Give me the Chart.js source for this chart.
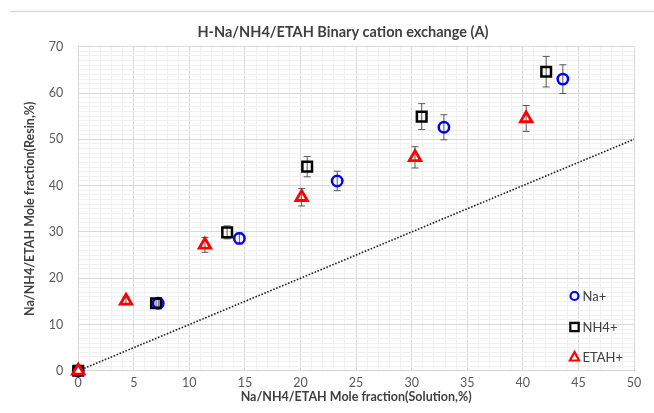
<!DOCTYPE html>
<html>
<head>
<meta charset="utf-8">
<script src="https://cdn.jsdelivr.net/npm/chart.js@4.4.1/dist/chart.umd.min.js"></script>
<style>
  html, body { margin: 0; padding: 0; background: #fff; }
</style>
</head>
<body>
<canvas id="chart" width="654" height="413"></canvas>
<script>
// values: x = mole fraction in solution (%), y = in resin (%)
const naX = [0, 7.2, 14.5, 23.3, 32.9, 43.6];
const naY = [0, 14.6, 28.6, 41.0, 52.6, 63.0];
const naErr = [0.3, 0.8, 1.2, 2.1, 2.7, 3.1];

const nh4X = [0, 7.0, 13.4, 20.6, 30.9, 42.1];
const nh4Y = [0, 14.6, 29.9, 44.1, 54.9, 64.6];
const nh4Err = [0.3, 0.8, 1.4, 2.2, 2.8, 3.3];

const etahX = [0, 4.3, 11.4, 20.1, 30.3, 40.3];
const etahY = [0, 15.1, 27.2, 37.5, 46.1, 54.5];
const etahErr = [0.3, 0.8, 1.6, 1.9, 2.3, 2.8];

// the 1:1 reference line
const diagX = [0, 50];
const diagY = [0, 50];

const xTickLabels = [0, 5, 10, 15, 20, 25, 30, 35, 40, 45, 50];
const yTickLabels = [0, 10, 20, 30, 40, 50, 60, 70];

const chartTitle = 'H-Na/NH4/ETAH Binary cation exchange (A)';
const xTitle = 'Na/NH4/ETAH Mole fraction(Solution,%)';
const yTitle = 'Na/NH4/ETAH Mole fraction(Resin,%)';

const FONT = 'Lato, "Open Sans", sans-serif';
const majorGrid = '#d9d9d9';
const minorGrid = '#f0f0f0';

function pts(xs, ys) {
  return xs.map((x, i) => ({ x: x, y: ys[i] }));
}

// vertical error bars, drawn under the markers (not at the origin)
const errorBars = {
  id: 'errorBars',
  beforeDatasetsDraw(chart) {
    const ctx = chart.ctx;
    const xs = chart.scales.x, ys = chart.scales.y;
    const sets = [[naX, naY, naErr], [nh4X, nh4Y, nh4Err], [etahX, etahY, etahErr]];
    ctx.save();
    ctx.strokeStyle = '#595959';
    ctx.lineWidth = 1;
    sets.forEach(([xv, yv, ev]) => {
      xv.forEach((x, i) => {
        if (yv[i] === 0) return;
        const px = xs.getPixelForValue(x);
        const top = ys.getPixelForValue(yv[i] + ev[i]);
        const bot = ys.getPixelForValue(yv[i] - ev[i]);
        ctx.beginPath();
        ctx.moveTo(px, top); ctx.lineTo(px, bot);
        ctx.moveTo(px - 3.5, top); ctx.lineTo(px + 3.5, top);
        ctx.moveTo(px - 3.5, bot); ctx.lineTo(px + 3.5, bot);
        ctx.stroke();
      });
    });
    ctx.restore();
  }
};

// frame line, title and the in-plot legend
const decorations = {
  id: 'decorations',
  beforeDraw(chart) {
    const ctx = chart.ctx;
    ctx.save();
    ctx.fillStyle = '#fff';
    ctx.fillRect(0, 0, chart.width, chart.height);
    ctx.strokeStyle = '#d9d9d9';
    ctx.lineWidth = 1.5;
    ctx.beginPath();
    ctx.moveTo(10, 11.5); ctx.lineTo(chart.width, 11.5);
    ctx.stroke();
    ctx.fillStyle = '#404040';
    ctx.font = 'bold 14.5px ' + FONT;
    ctx.textAlign = 'center';
    ctx.textBaseline = 'middle';
    ctx.fillText(chartTitle, 343, 32);
    ctx.restore();
  },
  afterDraw(chart) {
    const ctx = chart.ctx;
    const rows = [296, 327, 357];
    const mx = 574.5;
    ctx.save();
    ctx.font = '13px ' + FONT;
    ctx.textBaseline = 'middle';
    ctx.textAlign = 'left';
    chart.data.datasets.slice(0, 3).forEach((ds, i) => {
      const y = rows[i];
      ctx.strokeStyle = ds.borderColor;
      ctx.lineWidth = 2.2;
      ctx.beginPath();
      if (ds.pointStyle === 'circle') {
        ctx.arc(mx, y, 4, 0, Math.PI * 2);
      } else if (ds.pointStyle === 'rect') {
        ctx.rect(mx - 4.2, y - 4.2, 8.4, 8.4);
      } else {
        ctx.moveTo(mx, y - 5);
        ctx.lineTo(mx + 4.6, y + 3.5);
        ctx.lineTo(mx - 4.6, y + 3.5);
        ctx.closePath();
      }
      ctx.stroke();
      ctx.fillStyle = '#404040';
      ctx.fillText(ds.label, mx + 8, y + 0.5);
    });
    ctx.restore();
  }
};

const originFill = (color) => (c) => (c.dataIndex === 0 ? color : 'rgba(0,0,0,0)');

new Chart(document.getElementById('chart'), {
  type: 'scatter',
  data: {
    datasets: [
      {
        label: 'Na+',
        data: pts(naX, naY),
        pointStyle: 'circle',
        pointRadius: 5.2,
        borderColor: '#0000ff',
        backgroundColor: originFill('#0000ff'),
        borderWidth: 2.5,
        clip: false,
        order: 3
      },
      {
        label: 'NH4+',
        data: pts(nh4X, nh4Y),
        pointStyle: 'rect',
        pointRadius: 6.8,
        borderColor: '#000000',
        backgroundColor: 'rgba(0,0,0,0)',
        borderWidth: 2.5,
        clip: false,
        order: 2
      },
      {
        label: 'ETAH+',
        data: pts(etahX, etahY),
        pointStyle: 'triangle',
        pointRadius: 6.6,
        borderColor: '#ff0000',
        backgroundColor: originFill('#ffffff'),
        borderWidth: 2.8,
        clip: false,
        order: 1
      },
      {
        type: 'line',
        label: '1:1',
        data: pts(diagX, diagY),
        showLine: true,
        pointRadius: 0,
        borderColor: '#222222',
        borderWidth: 1.6,
        borderDash: [1.6, 1.6],
        fill: false,
        order: 4
      }
    ]
  },
  options: {
    responsive: false,
    animation: false,
    devicePixelRatio: 1,
    layout: { padding: { left: 10, right: 20, top: 46.7, bottom: 8 } },
    plugins: {
      legend: { display: false },
      title: { display: false },
      tooltip: { enabled: false }
    },
    scales: {
      x: {
        type: 'linear',
        min: 0,
        max: 50,
        afterFit: (s) => { s.height = 34.2; },
        ticks: {
          stepSize: 1,
          autoSkip: false,
          maxRotation: 0,
          padding: 5,
          color: '#595959',
          font: { family: FONT, size: 12.5 },
          callback: (v) => (xTickLabels.includes(v) ? String(v) : '')
        },
        grid: {
          drawTicks: false,
          lineWidth: 1,
          color: (c) => (c.tick && xTickLabels.includes(c.tick.value) ? majorGrid : minorGrid)
        },
        border: { color: majorGrid },
        title: {
          display: true,
          text: xTitle,
          color: '#404040',
          font: { family: FONT, size: 12.5, weight: 'bold' },
          padding: { top: 0, bottom: 1 }
        }
      },
      y: {
        type: 'linear',
        min: 0,
        max: 70,
        afterFit: (s) => { s.width = 68.2; },
        ticks: {
          stepSize: 1,
          autoSkip: false,
          padding: 15,
          color: '#595959',
          font: { family: FONT, size: 12.5 },
          callback: (v) => (yTickLabels.includes(v) ? String(v) : '')
        },
        grid: {
          drawTicks: false,
          lineWidth: 1,
          color: (c) => (c.tick && yTickLabels.includes(c.tick.value) ? majorGrid : minorGrid)
        },
        border: { color: majorGrid },
        title: {
          display: true,
          text: yTitle,
          color: '#404040',
          font: { family: FONT, size: 12.5, weight: 'bold' },
          padding: { top: 12.8, bottom: 0 }
        }
      }
    }
  },
  plugins: [decorations, errorBars]
});
</script>
</body>
</html>
